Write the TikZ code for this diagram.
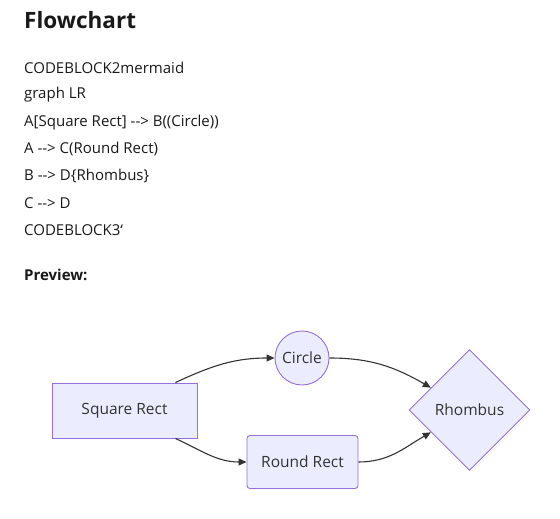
\documentclass[tikz,border=0pt]{standalone}
\usepackage{fontspec}
\setmainfont{Open Sans}
\usetikzlibrary{arrows.meta,shapes.geometric}
\definecolor{nodefill}{HTML}{ECECFF}
\definecolor{nodeline}{HTML}{9370DB}
\definecolor{inkgray}{HTML}{333333}

\begin{document}
\begin{tikzpicture}[x=1pt,y=1pt,
  txt/.style={anchor=west,inner sep=0pt,font=\fontsize{15}{18}\selectfont,text=black!90},
  shp/.style={draw=nodeline,fill=nodefill,line width=0.9pt,text=inkgray,font=\fontsize{15.5}{18}\selectfont,inner sep=0pt},
  box/.style={shp,minimum width=145pt,minimum height=55pt},
  rbox/.style={shp,rounded corners=3pt,minimum width=111pt,minimum height=53pt},
  circ/.style={shp,circle,minimum size=54pt},
  dia/.style={shp,diamond,aspect=1,minimum width=121pt,minimum height=121pt},
  arr/.style={-{Triangle[length=8pt,width=7pt]},draw=inkgray,line width=1.1pt}
]
\useasboundingbox (0,0) rectangle (560,-519);

% heading and code lines
\node[txt,font=\fontsize{22.5}{26}\bfseries] (title) at (24,-20) {Flowchart};
\node[txt] (l1) at (24,-68) {CODEBLOCK2mermaid};
\node[txt] (l2) at (24,-95) {graph LR};
\node[txt] (l3) at (24,-123) {A[Square Rect] -{}-> B((Circle))};
\node[txt] (l4) at (24,-149) {A -{}-> C(Round Rect)};
\node[txt] (l5) at (24,-176) {B -{}-> D\{Rhombus\}};
\node[txt] (l6) at (24,-203) {C -{}-> D};
\node[txt] (l7) at (24,-230) {CODEBLOCK3\symbol{96}};
\node[txt,font=\fontsize{15}{18}\bfseries] (prev) at (24,-275) {Preview:};

% flowchart
\node[box] (sq) at (124.5,-410.5) {Square Rect};
\node[circ] (ci) at (302,-358) {Circle};
\node[rbox] (rr) at (302.5,-462) {Round Rect};
\node[dia] (rh) at (469.5,-410) {Rhombus};

\draw[arr] ([xshift=-22pt]sq.north east) to[out=25,in=180] (ci.west);
\draw[arr] ([xshift=-22pt]sq.south east) to[out=-25,in=180] (rr.west);
\draw[arr] (ci.east) to[out=0,in=150] (rh.150);
\draw[arr] (rr.east) to[out=0,in=210] (rh.210);
\end{tikzpicture}
\end{document}
